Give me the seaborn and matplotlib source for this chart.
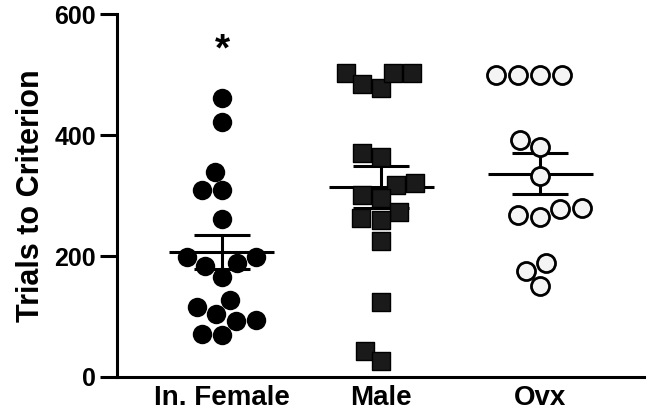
import matplotlib
matplotlib.use('Agg')
import matplotlib.pyplot as plt
import pandas as pd
import numpy as np
import seaborn as sns

# values
groups = ['In. Female', 'Male', 'Ovx']
female = [462, 422, 339, 309, 309, 261, 198, 188, 183, 198, 166, 128, 116, 104, 93, 94, 71, 69]
male = [502, 484, 502, 477, 502, 370, 364, 320, 317, 296, 301, 272, 260, 263, 225, 124, 43, 26]
ovx = [500, 500, 500, 500, 380, 392, 332, 277, 264, 268, 279, 189, 176, 150]
yticks = [0, 200, 400, 600]

df = pd.DataFrame({
    'group': ['In. Female'] * len(female) + ['Male'] * len(male) + ['Ovx'] * len(ovx),
    'trials': female + male + ovx,
})

sns.set_style('ticks', {'axes.edgecolor': 'black', 'text.color': 'black',
                        'axes.labelcolor': 'black', 'xtick.color': 'black', 'ytick.color': 'black'})
plt.rcParams['font.family'] = ['Liberation Sans', 'DejaVu Sans']
plt.rcParams['font.weight'] = 'bold'

fig = plt.figure(figsize=(6.5, 4.15), dpi=100)
ax = fig.add_axes([0.18, 0.0916, 0.81, 0.8744])

# mean +/- SEM
stats = df.groupby('group')['trials'].agg(['mean', 'sem']).reindex(groups)
xpos = np.arange(len(groups))
ax.hlines(stats['mean'], xpos - 0.33, xpos + 0.33, color='black', linewidth=2.2, zorder=1)
ax.errorbar(xpos, stats['mean'], yerr=stats['sem'], fmt='none', ecolor='black',
            elinewidth=2.2, capsize=20, capthick=2.2, zorder=1)

# points
sns.swarmplot(data=df[df.group == 'In. Female'], x='group', y='trials', order=groups,
              color='black', size=14, marker='o', linewidth=0, ax=ax, zorder=3)
sns.swarmplot(data=df[df.group == 'Male'], x='group', y='trials', order=groups,
              color='#1a1a1a', size=12.5, marker='s', edgecolor='black', linewidth=1, ax=ax, zorder=3)
sns.swarmplot(data=df[df.group == 'Ovx'], x='group', y='trials', order=groups,
              color='#f4f4f4', size=13, marker='o', edgecolor='black', linewidth=2, ax=ax, zorder=3)

ax.text(0, 540, '*', ha='center', va='center', fontsize=28, fontweight='bold', color='black')

ax.set_xlim(-0.66, 2.65)
ax.set_ylim(0, 600)
ax.set_yticks(yticks)
ax.set_xlabel('')
ax.set_ylabel('Trials to Criterion', fontsize=22, fontweight='bold', labelpad=6)
ax.tick_params(axis='y', length=12, width=2.2, labelsize=18, pad=3)
ax.tick_params(axis='x', length=0, labelsize=20, pad=6)
for lab in ax.get_xticklabels() + ax.get_yticklabels():
    lab.set_fontweight('bold')
sns.despine(ax=ax)
for side in ['left', 'bottom']:
    ax.spines[side].set_linewidth(2.2)
for coll in ax.collections:
    coll.set_clip_on(False)

fig.savefig('out.png', dpi=100)
